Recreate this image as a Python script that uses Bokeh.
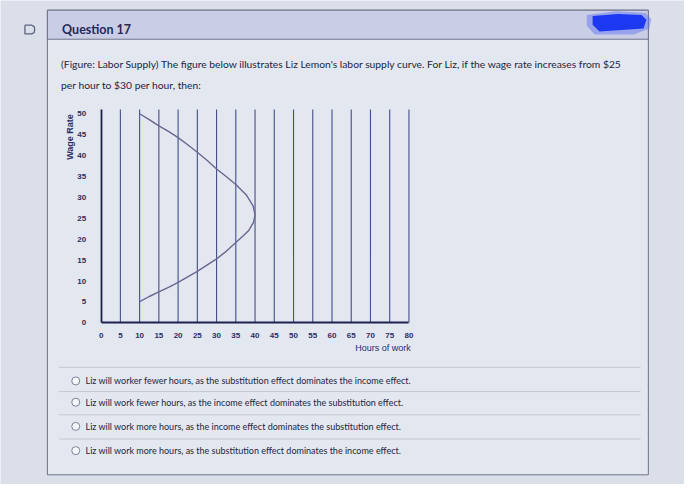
import math
from bokeh.plotting import figure
from bokeh.models import Range1d, FixedTicker
from bokeh.embed import file_html
from bokeh.resources import INLINE
from bokeh.core.properties import value

# ---------------- data ----------------
hours = [10, 12.5, 15, 17.5, 20, 22.5, 25, 27.5, 30, 32.5, 35, 36.8, 38.3, 39.6, 40,
         39.5, 37.8, 35, 32.5, 30, 27.5, 25, 22.5, 20, 17.5, 15, 12.5, 10]
wage = [5.1, 6.3, 7.4, 8.5, 9.7, 11.0, 12.3, 13.8, 15.3, 17.1, 19.2, 20.7, 22, 24, 25.8,
        28, 30.5, 33.1, 35.0, 36.8, 38.9, 40.8, 42.6, 44.3, 45.8, 47.1, 48.6, 50]
x_ticks = list(range(0, 85, 5))
y_ticks = list(range(0, 55, 5))
x_label = "Hours of work"
y_label = "Wage Rate"
header = "Question 17"
question_lines = [
    "(Figure: Labor Supply) The figure below illustrates Liz Lemon's labor supply curve. For Liz, if the wage rate increases from $25",
    "per hour to $30 per hour, then:",
]
options = [
    "Liz will worker fewer hours, as the substitution effect dominates the income effect.",
    "Liz will work fewer hours, as the income effect dominates the substitution effect.",
    "Liz will work more hours, as the income effect dominates the substitution effect.",
    "Liz will work more hours, as the substitution effect dominates the income effect.",
]

# ---------------- layout ----------------
W, H = 684, 484            # figure size
RW, RH = 700.0, 500.0      # layout grid used for the decorations
sx, sy = W / RW, H / RH
X0, X80 = 103 * sx, 418 * sx     # frame pixels of hours 0 and 80
Y0, Y50 = 333 * sy, 117 * sy     # frame pixels (from top) of wage 0 and 50
xppu = (X80 - X0) / 80.0
yppu = (Y0 - Y50) / 50.0
x_start = -X0 / xppu
x_end = 80 + (W - X80) / xppu
y_start = -(H - Y0) / yppu
y_end = 50 + Y50 / yppu

BG = "#dadfe9"
p = figure(width=W, height=H, output_backend="svg", toolbar_location=None,
           x_range=Range1d(x_start, x_end), y_range=Range1d(y_start, y_end),
           min_border=0, background_fill_color=BG, border_fill_color=BG,
           outline_line_color=None)
p.extra_x_ranges = {"px": Range1d(0, RW)}
p.extra_y_ranges = {"py": Range1d(RH, 0)}
pg = dict(x_range_name="px", y_range_name="py")
p.grid.visible = False

# ---------------- page decorations ----------------
p.quad(left=[48], right=[663], top=[10], bottom=[490], fill_color="#e3e7ef",
       line_color="#6f7389", line_width=1, **pg)
p.quad(left=[48], right=[663], top=[10], bottom=[40], fill_color="#c9cde6",
       line_color="#6f7389", line_width=1, **pg)
# flag icon
dx = [25, 32, 34.5, 35, 34.5, 32, 25, 25]
dy = [25.5, 25.5, 27, 30, 33, 34.5, 34.5, 25.5]
p.line(dx, dy, line_color="#5d6380", line_width=1.3, **pg)
# blue scribble
p.patch([600, 630, 660, 666, 664, 648, 608, 600], [15, 11, 13, 19, 29, 35, 35, 26],
        fill_color="#5a6ff5", fill_alpha=0.45, line_color=None, **pg)
p.patch([606, 632, 656, 661, 658, 613, 606], [16, 14, 15, 20, 29, 32, 25],
        fill_color="#1c38f0", line_color=None, **pg)

p.text(x=[63], y=[30], text=[header], text_font=value("Lato"), text_font_style="bold",
       text_font_size="12.5px", text_color="#24285a", text_baseline="middle", **pg)

p.text(x=[62, 62], y=[66, 87], text=question_lines, text_font=value("Lato"),
       text_font_size="10.3px", text_color="#22263f", text_baseline="middle", **pg)

p.segment(x0=[60] * 4, y0=[379, 404, 428, 453], x1=[655] * 4, y1=[379, 404, 428, 453],
          line_color="#c3c8d4", line_width=1, **pg)
opt_y = [393, 415, 440, 465]
p.scatter(x=[77] * 4, y=opt_y, size=8, marker="circle", fill_color="#f5f7fb",
          line_color="#7c8296", line_width=1, **pg)
p.text(x=[87] * 4, y=opt_y, text=options, text_font=value("Lato"),
       text_font_size="9px", text_color="#22263f", text_baseline="middle", **pg)

# ---------------- chart ----------------
p.segment(x0=x_ticks[1:], y0=[0] * (len(x_ticks) - 1), x1=x_ticks[1:],
          y1=[51] * (len(x_ticks) - 1), line_color="#41508a", line_width=1.1)
p.line(hours, wage, line_color="#6c6592", line_width=1.4, line_join="round")

for ax in p.xaxis:
    ax.fixed_location = 0
    ax.bounds = (0, 80)
    ax.ticker = FixedTicker(ticks=x_ticks)
for ax in p.yaxis:
    ax.fixed_location = 0
    ax.bounds = (0, 51)
    ax.ticker = FixedTicker(ticks=y_ticks)
for ax in list(p.xaxis) + list(p.yaxis):
    ax.axis_line_color = "#1f2251"
    ax.axis_line_width = 1.8
    ax.major_tick_line_color = None
    ax.minor_tick_line_color = None
    ax.major_label_text_font = "Liberation Sans"
    ax.major_label_text_font_style = "bold"
    ax.major_label_text_font_size = "8px"
    ax.major_label_text_color = "#2b2e66"
p.xaxis.major_label_standoff = 4
p.yaxis.major_label_standoff = 9

p.text(x=[71], y=[141], text=[y_label], angle=math.pi / 2, text_font=value("Liberation Sans"),
       text_font_style="bold", text_font_size="9px", text_color="#2b2e66",
       text_align="center", text_baseline="middle", **pg)
p.text(x=[80.5], y=[359], text=[x_label], x_range_name="default", y_range_name="py",
       text_font=value("Liberation Sans"), text_font_size="9px", text_color="#2b2e66",
       text_align="right", text_baseline="middle")

html = file_html(p, INLINE)
html = html.replace("<body>", '<body style="background:%s">' % BG, 1)
open("out.html", "w").write(html)
